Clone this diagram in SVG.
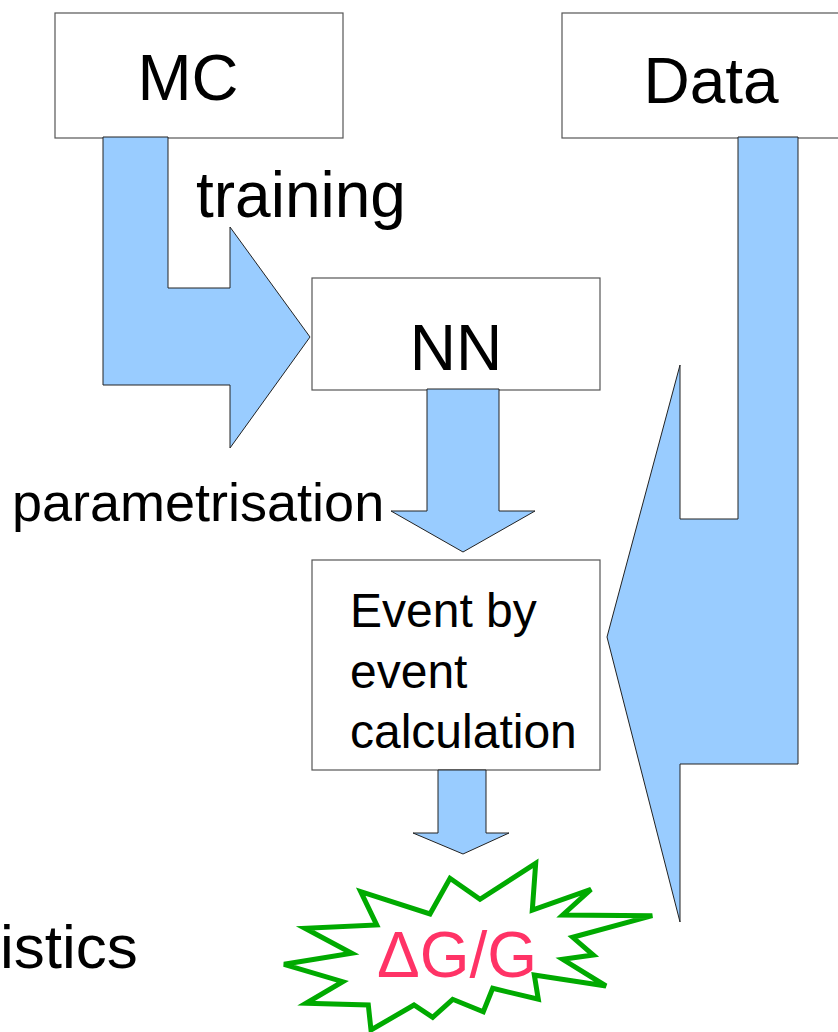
<svg xmlns="http://www.w3.org/2000/svg" width="838" height="1032" viewBox="0 0 838 1032">
<style>
.box{fill:#fff;stroke:#555;stroke-width:1.2}
.arr{fill:#99ccff;stroke:#222;stroke-width:1}
.t{font-family:"Liberation Sans",Arial,sans-serif;fill:#000}
</style>
<rect width="838" height="1032" fill="#fff"/>
<g id="mc"><rect class="box" x="55" y="13" width="288" height="125"/><text class="t" x="188" y="100" font-size="65" text-anchor="middle">MC</text></g>
<g id="data"><rect class="box" x="562" y="13" width="290" height="125"/><text class="t" x="711" y="103" font-size="64" text-anchor="middle">Data</text></g>
<g id="nn"><rect class="box" x="312" y="278" width="288" height="112"/><text class="t" x="456" y="370" font-size="64" text-anchor="middle">NN</text></g>
<g id="event"><rect class="box" x="312" y="560" width="288" height="210"/>
<text class="t" font-size="48"><tspan x="350" y="627">Event by</tspan><tspan x="350" y="688">event</tspan><tspan x="350" y="748">calculation</tspan></text></g>
<g id="connectors">
<polygon class="arr" points="103,137 168,137 168,288 230,288 230,227 310,337 230,448 230,385 103,385"/>
<polygon class="arr" points="427,389 499,389 499,511 535,511 463,552 391,511 427,511"/>
<polygon class="arr" points="438,770 486,770 486,833 509,833 463,854 413,833 438,833"/>
<polygon class="arr" points="738,137 798,137 798,764 680,764 680,922 607,637 680,365 680,519 738,519"/>
</g>
<text class="t" x="196" y="217" font-size="64">training</text>
<text class="t" x="12" y="521" font-size="54">parametrisation</text>
<text class="t" x="0" y="968" font-size="62">istics</text>
<g id="result">
<polygon fill="#fff" stroke="#00aa00" stroke-width="5" stroke-linejoin="miter" points="284,964.3 351.7,953.3 305,928.3 376.7,925 360.7,891.7 430,914 450,878.3 480,899.3 535.7,863.3 532.3,910 591,889.3 562.7,915 652.3,915.7 572.7,937.3 593.3,955 562.7,959.3 606,986 534.3,975 538.3,999.3 492.7,988.3 483.3,1011.7 452.7,999.3 432.7,1017.3 414,1005 371,1030 368.3,1005 306,1003.3 342.7,981.7"/>
<text x="377" y="977" font-size="64" font-family="'Liberation Sans',Arial,sans-serif" fill="#ff3366">ΔG/G</text>
</g>
</svg>
